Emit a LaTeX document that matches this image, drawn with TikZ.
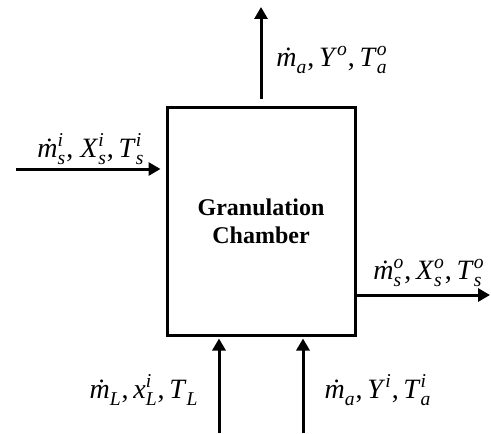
\documentclass[tikz,border=0pt]{standalone}
\usepackage{amsmath}
\usepackage{fontspec}
\setmainfont{Liberation Serif}
\usetikzlibrary{arrows.meta}
\newcommand\fq[3]{\textit{#1}\ensuremath{^{\textit{#2}}_{\textit{#3}}}}
\tikzset{
  flow/.style={line width=1.5pt,-{Triangle[length=6pt,width=6.5pt]}},
  lbl/.style={font=\fontsize{14pt}{16pt}\selectfont, inner sep=0pt},
  chamber/.style={draw, line width=1.5pt, minimum width=94pt, minimum height=114pt,
    inner sep=0pt, align=center, font=\fontsize{12pt}{14pt}\selectfont\bfseries}
}
\begin{document}
\begin{tikzpicture}[x=0.5pt,y=-0.5pt]
\useasboundingbox (0,0) rectangle (491,433);
\node[chamber] (box) at (261,221) {Granulation\\Chamber};
\coordinate (top) at (261,7);
\coordinate (lin) at (16,169);
\coordinate (rout) at (490,295);
\coordinate (bl) at (219,433);
\coordinate (br) at (303,433);
\draw[flow, shorten <=3.5pt] (box.north) -- (top);
\draw[flow, shorten >=2.5pt] (lin) -- (lin -| box.west);
\draw[flow] (rout -| box.east) -- (rout);
\draw[flow, shorten >=1pt] (bl) -- (bl |- box.south);
\draw[flow, shorten >=1pt] (br) -- (br |- box.south);
\node[lbl] (ltop) at (332,60) {\fq{\.m}{}{a},\,\fq{Y}{o}{},\,\fq{T}{o}{a}};
\node[lbl] (lleft) at (91,149) {\fq{\.m}{i}{s}, \fq{X}{i}{s},\,\fq{T}{i}{s}};
\node[lbl] (lright) at (429,273) {\fq{\.m}{o}{s},\,\fq{X}{o}{s},\,\fq{T}{o}{s}};
\node[lbl] (lbl1) at (144,390) {\fq{\.m}{}{L},\,\fq{x}{i}{L},\,\fq{T}{}{L}};
\node[lbl] (lbr) at (378,390) {\fq{\.m}{}{a},\,\fq{Y}{i}{},\,\fq{T}{i}{a}};
\end{tikzpicture}
\end{document}
